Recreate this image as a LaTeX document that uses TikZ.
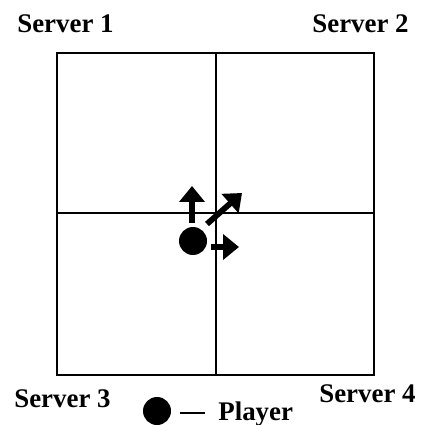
\documentclass[tikz,border=0pt]{standalone}
\usepackage{fontspec}
\setmainfont{Liberation Serif}
\usetikzlibrary{arrows.meta, positioning}

\begin{document}
\begin{tikzpicture}[x=0.02cm, y=-0.02cm,
    label_node/.style={font=\fontsize{15.3}{18}\selectfont\bfseries, inner sep=0pt, anchor=base west},
    move_arrow/.style={line width=3.3pt, -{Triangle[length=0.32cm, width=0.5cm]}},
    ]
    \useasboundingbox (0,0) rectangle (420,425);
    % Grid of servers
    \draw[line width=1.2pt] (57,53) rectangle (374,375);
    \draw[line width=0.9pt] (216,53) -- (216,375);
    \draw[line width=0.9pt] (57,213) -- (374,213);

    % Labels
    \node[label_node] (s1) at (17,33) {Server 1};
    \node[label_node, anchor=base east] (s2) at (409,33) {Server 2};
    \node[label_node] (s3) at (14,407) {Server 3};
    \node[label_node] (s4) at (319,402) {Server 4};

    % Player and moves
    \fill (193,241) circle[radius=14] coordinate (player);
    \coordinate (up_start) at (192,223);
    \coordinate (up_end) at (192,186);
    \coordinate (diag_start) at (207,224);
    \coordinate (diag_end) at (242,193);
    \coordinate (right_start) at (211,247);
    \coordinate (right_end) at (239,247);
    \draw[move_arrow] (up_start) -- (up_end);
    \draw[move_arrow] (diag_start) -- (diag_end);
    \draw[move_arrow] (right_start) -- (right_end);

    % Legend
    \fill (157,411) circle[radius=14] coordinate (legend_dot);
    \coordinate (dash_start) at (180,413);
    \coordinate (dash_end) at (205,413);
    \draw[line width=1.2pt] (dash_start) -- (dash_end);
    \node[label_node] (legend) at (218,420) {Player};
\end{tikzpicture}
\end{document}
